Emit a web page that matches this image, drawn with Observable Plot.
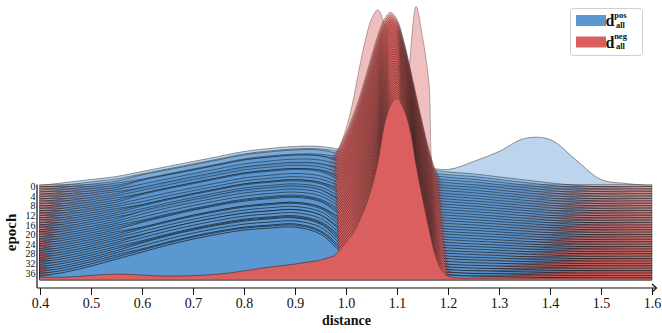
<!DOCTYPE html>
<html><head><meta charset="utf-8">
<script src="https://cdn.jsdelivr.net/npm/d3@7"></script>
<script src="https://cdn.jsdelivr.net/npm/@observablehq/plot@0.6"></script>
<style>body{margin:0;background:#fff}#chart{width:662px;height:333px}</style>
</head><body><div id="chart"></div>
<script>
const epochs = [0,1,2,3,4,5,6,7,8,9,10,11,12,13,14,15,16,17,18,19,20,21,22,23,24,25,26,27,28,29,30,31,32,33,34,35,36,37,38,39];
const epochTicks = [0,4,8,12,16,20,24,28,32,36];
const xTicks = [0.4,0.5,0.6,0.7,0.8,0.9,1.0,1.1,1.2,1.3,1.4,1.5,1.6];
const seriesNames = ["pos","neg"];
const seriesColors = ["#5b97d0","#d9605e"];
// distance grid of the positive-pair density
const blueX = [0.40,0.45,0.50,0.55,0.60,0.65,0.70,0.75,0.80,0.85,0.90,0.95,1.00,1.05,1.10,1.15,1.20,1.25,1.30,1.35,1.40,1.45,1.50,1.55,1.60];
// distance grid of the negative-pair density
const redX = [0.40,0.45,0.55,0.65,0.75,0.85,0.90,0.925,0.95,0.9625,0.975,0.9875,1.0,1.0125,1.025,1.0375,1.05,1.0625,1.075,1.0875,1.1,1.1125,1.125,1.1375,1.15,1.1625,1.175,1.1875,1.2,1.225,1.25,1.30,1.45,1.60];
const posDensity = [
[0.05,0.2,0.35,0.5,0.75,1.0,1.25,1.5,1.75,1.9,2.0,2.0,1.8,1.5,1.25,1.0,0.85,1.25,1.75,2.4,2.35,1.35,0.35,0.15,0.03],
[0.05,0.2,0.35,0.5,0.75,1.0,1.25,1.5,1.75,1.9,2.0,2.0,1.8,1.5,1.25,1.0,0.85,0.75,0.6,0.45,0.3,0.18,0.1,0.05,0.03],
[0.05,0.21,0.36,0.51,0.82,1.07,1.32,1.57,1.82,1.97,2.07,2.06,1.78,1.48,1.23,0.98,0.83,0.74,0.59,0.44,0.3,0.18,0.1,0.05,0.03],
[0.06,0.21,0.37,0.53,0.73,0.99,1.24,1.49,1.74,1.89,1.98,1.97,1.77,1.45,1.21,0.97,0.82,0.72,0.58,0.43,0.29,0.18,0.1,0.05,0.03],
[0.06,0.22,0.38,0.54,0.8,1.06,1.31,1.56,1.81,1.96,2.05,2.02,1.75,1.43,1.19,0.95,0.8,0.71,0.57,0.43,0.29,0.17,0.1,0.05,0.03],
[0.07,0.22,0.39,0.56,0.92,1.18,1.43,1.68,1.93,2.07,2.17,2.13,1.74,1.41,1.17,0.93,0.79,0.69,0.56,0.42,0.28,0.17,0.1,0.05,0.03],
[0.07,0.23,0.4,0.57,0.84,1.1,1.36,1.61,1.85,1.99,2.09,2.04,1.72,1.39,1.14,0.91,0.77,0.68,0.54,0.41,0.28,0.17,0.1,0.05,0.03],
[0.07,0.23,0.41,0.59,0.75,1.02,1.28,1.53,1.77,1.91,2.0,1.95,1.71,1.37,1.12,0.9,0.76,0.66,0.53,0.4,0.27,0.17,0.1,0.05,0.03],
[0.08,0.24,0.41,0.6,0.92,1.19,1.45,1.7,1.94,2.08,2.17,2.11,1.69,1.34,1.1,0.88,0.74,0.65,0.52,0.4,0.27,0.17,0.1,0.05,0.03],
[0.08,0.24,0.42,0.62,0.89,1.16,1.42,1.67,1.91,2.05,2.14,2.06,1.67,1.32,1.08,0.86,0.72,0.63,0.51,0.39,0.26,0.16,0.1,0.05,0.03],
[0.09,0.25,0.43,0.63,0.85,1.13,1.39,1.64,1.88,2.02,2.1,2.02,1.66,1.3,1.06,0.85,0.71,0.62,0.5,0.38,0.26,0.16,0.1,0.05,0.03],
[0.09,0.25,0.44,0.64,0.97,1.25,1.51,1.76,2.0,2.13,2.22,2.13,1.64,1.28,1.04,0.83,0.69,0.6,0.49,0.37,0.26,0.16,0.1,0.05,0.03],
[0.09,0.26,0.45,0.66,1.04,1.32,1.58,1.83,2.07,2.2,2.29,2.19,1.63,1.25,1.02,0.81,0.68,0.59,0.48,0.36,0.25,0.16,0.09,0.05,0.03],
[0.1,0.26,0.46,0.67,0.96,1.24,1.5,1.75,1.99,2.12,2.21,2.09,1.61,1.23,1.0,0.79,0.66,0.58,0.47,0.36,0.25,0.15,0.09,0.05,0.03],
[0.1,0.27,0.47,0.69,0.92,1.21,1.47,1.72,1.96,2.09,2.17,2.05,1.59,1.21,0.98,0.78,0.65,0.56,0.46,0.35,0.24,0.15,0.09,0.05,0.03],
[0.11,0.27,0.48,0.7,0.89,1.18,1.44,1.69,1.93,2.06,2.14,2.01,1.58,1.19,0.96,0.76,0.63,0.55,0.45,0.34,0.24,0.15,0.09,0.05,0.03],
[0.11,0.28,0.49,0.72,1.01,1.3,1.57,1.82,2.05,2.18,2.26,2.12,1.56,1.16,0.93,0.74,0.61,0.53,0.43,0.33,0.23,0.15,0.09,0.05,0.03],
[0.11,0.28,0.5,0.73,1.07,1.37,1.64,1.89,2.12,2.25,2.32,2.18,1.55,1.14,0.91,0.73,0.6,0.52,0.42,0.32,0.23,0.15,0.09,0.05,0.03],
[0.12,0.29,0.51,0.75,1.04,1.34,1.61,1.86,2.09,2.21,2.29,2.13,1.53,1.12,0.89,0.71,0.58,0.5,0.41,0.32,0.22,0.14,0.09,0.05,0.03],
[0.12,0.29,0.52,0.76,1.01,1.3,1.58,1.83,2.05,2.18,2.26,2.09,1.52,1.1,0.87,0.69,0.57,0.49,0.4,0.31,0.22,0.14,0.09,0.05,0.03],
[0.13,0.3,0.53,0.78,1.18,1.48,1.75,2.0,2.23,2.35,2.43,2.25,1.5,1.08,0.85,0.68,0.55,0.48,0.39,0.3,0.22,0.14,0.09,0.05,0.03],
[0.13,0.31,0.53,0.79,1.14,1.45,1.72,1.97,2.2,2.32,2.39,2.21,1.48,1.05,0.83,0.66,0.53,0.46,0.38,0.29,0.21,0.14,0.09,0.05,0.03],
[0.13,0.31,0.54,0.8,1.11,1.41,1.69,1.94,2.16,2.29,2.36,2.17,1.47,1.03,0.81,0.64,0.52,0.45,0.37,0.28,0.21,0.14,0.09,0.05,0.03],
[0.14,0.32,0.55,0.82,1.08,1.38,1.66,1.91,2.13,2.26,2.33,2.12,1.45,1.01,0.79,0.62,0.5,0.43,0.36,0.28,0.2,0.13,0.09,0.05,0.03],
[0.14,0.32,0.56,0.83,1.14,1.45,1.73,1.98,2.2,2.32,2.39,2.18,1.44,0.99,0.77,0.61,0.49,0.42,0.35,0.27,0.2,0.13,0.09,0.05,0.03],
[0.15,0.33,0.57,0.85,1.21,1.52,1.81,2.06,2.27,2.39,2.46,2.24,1.42,0.96,0.74,0.59,0.47,0.4,0.33,0.26,0.19,0.13,0.09,0.05,0.03],
[0.15,0.33,0.58,0.86,1.08,1.39,1.68,1.93,2.14,2.26,2.33,2.1,1.41,0.94,0.72,0.57,0.46,0.39,0.32,0.25,0.19,0.13,0.09,0.05,0.03],
[0.15,0.34,0.59,0.88,1.2,1.51,1.8,2.05,2.26,2.38,2.45,2.21,1.39,0.92,0.7,0.56,0.44,0.37,0.31,0.25,0.18,0.13,0.09,0.05,0.03],
[0.16,0.34,0.6,0.89,1.26,1.58,1.87,2.12,2.33,2.45,2.51,2.26,1.37,0.9,0.68,0.54,0.42,0.36,0.3,0.24,0.18,0.12,0.09,0.05,0.03],
[0.16,0.35,0.61,0.91,1.23,1.55,1.84,2.09,2.3,2.42,2.48,2.22,1.36,0.87,0.66,0.52,0.41,0.35,0.29,0.23,0.18,0.12,0.09,0.05,0.03],
[0.16,0.35,0.62,0.92,1.2,1.52,1.81,2.06,2.27,2.38,2.45,2.18,1.34,0.85,0.64,0.5,0.39,0.33,0.28,0.22,0.17,0.12,0.08,0.05,0.03],
[0.17,0.36,0.63,0.93,1.31,1.64,1.93,2.18,2.39,2.5,2.56,2.29,1.33,0.83,0.62,0.49,0.38,0.32,0.27,0.21,0.17,0.12,0.08,0.05,0.03],
[0.17,0.36,0.64,0.95,1.28,1.61,1.9,2.15,2.36,2.47,2.53,2.24,1.31,0.81,0.6,0.47,0.36,0.3,0.26,0.21,0.16,0.12,0.08,0.05,0.03],
[0.18,0.37,0.64,0.96,1.25,1.58,1.87,2.12,2.33,2.44,2.5,2.2,1.29,0.78,0.58,0.45,0.35,0.29,0.25,0.2,0.16,0.11,0.08,0.05,0.03],
[0.18,0.37,0.65,0.98,1.31,1.65,1.94,2.19,2.4,2.51,2.56,2.26,1.28,0.76,0.56,0.44,0.33,0.27,0.24,0.19,0.15,0.11,0.08,0.05,0.03],
[0.18,0.38,0.66,0.99,1.38,1.72,2.02,2.27,2.47,2.58,2.63,2.32,1.26,0.74,0.53,0.42,0.31,0.26,0.22,0.18,0.15,0.11,0.08,0.05,0.03],
[0.19,0.38,0.67,1.01,1.35,1.69,1.99,2.24,2.44,2.54,2.6,2.28,1.25,0.72,0.51,0.4,0.3,0.24,0.21,0.17,0.14,0.11,0.08,0.05,0.03],
[0.19,0.39,0.68,1.02,1.32,1.66,1.96,2.21,2.41,2.51,2.57,2.23,1.23,0.7,0.49,0.38,0.28,0.23,0.2,0.17,0.14,0.1,0.08,0.05,0.03],
[0.2,0.39,0.69,1.04,1.38,1.73,2.03,2.28,2.48,2.58,2.63,2.29,1.22,0.67,0.47,0.37,0.27,0.21,0.19,0.16,0.13,0.1,0.08,0.05,0.03],
[0.2,0.4,0.7,1.05,1.4,1.75,2.05,2.3,2.5,2.6,2.65,2.3,1.2,0.65,0.45,0.35,0.25,0.2,0.18,0.15,0.13,0.1,0.08,0.05,0.03]
];
const negDensity = [
[0.1,0.1,0.1,0.1,0.1,0.1,0.1,0.1, 0.1,0.1,0.1,0.1,0.15,0.15,0.15,0.2,0.2,0.25,0.3,0.4,0.6,1.75,6.25,9.0,7.5,5.25,0.3,0.15,0.1, 0.1,0.1,0.1,0.1,0.1],
[0.1,0.1,0.1,0.1,0.1,0.15,0.25,0.4, 0.6,0.9,1.4,2.1,3.0,4.25,5.9,7.4,8.5,8.95,8.25,6.75,5.0,3.4,2.0,1.1,0.6,0.3,0.2,0.15,0.1, 0.1,0.1,0.1,0.1,0.1],
[0.1,0.1,0.15,0.15,0.2,0.4,0.6,0.8, 1.2,1.45,1.75,2.25,2.9,3.7,4.6,5.65,6.75,7.8,8.6,8.95,8.6,7.6,6.25,4.8,3.4,2.1,1.1,0.55,0.3, 0.15,0.1,0.1,0.1,0.1],
[0.1,0.1,0.15,0.15,0.2,0.41,0.61,0.8, 1.19,1.44,1.74,2.23,2.87,3.66,4.55,5.6,6.69,7.75,8.58,8.95,8.61,7.63,6.29,4.83,3.42,2.11,1.1,0.55,0.3, 0.15,0.1,0.1,0.1,0.1],
[0.1,0.1,0.16,0.15,0.21,0.41,0.61,0.81, 1.19,1.43,1.72,2.21,2.85,3.62,4.51,5.54,6.63,7.7,8.55,8.94,8.63,7.65,6.32,4.85,3.44,2.13,1.11,0.55,0.29, 0.15,0.1,0.1,0.1,0.1],
[0.1,0.1,0.16,0.15,0.21,0.42,0.62,0.81, 1.18,1.42,1.71,2.19,2.82,3.59,4.46,5.49,6.58,7.65,8.53,8.93,8.64,7.68,6.36,4.88,3.46,2.14,1.11,0.55,0.29, 0.15,0.1,0.1,0.1,0.1],
[0.11,0.11,0.17,0.16,0.21,0.43,0.62,0.81, 1.18,1.41,1.69,2.17,2.79,3.55,4.42,5.43,6.52,7.6,8.51,8.93,8.65,7.71,6.4,4.9,3.48,2.15,1.12,0.54,0.29, 0.15,0.1,0.1,0.1,0.1],
[0.11,0.11,0.17,0.16,0.21,0.43,0.63,0.81, 1.17,1.4,1.68,2.15,2.77,3.51,4.37,5.38,6.46,7.54,8.49,8.92,8.67,7.74,6.43,4.93,3.5,2.17,1.12,0.54,0.29, 0.15,0.1,0.1,0.1,0.1],
[0.11,0.11,0.17,0.16,0.22,0.44,0.63,0.82, 1.17,1.39,1.66,2.13,2.74,3.47,4.33,5.33,6.4,7.49,8.46,8.92,8.68,7.76,6.47,4.95,3.51,2.18,1.12,0.54,0.28, 0.15,0.1,0.1,0.1,0.1],
[0.11,0.11,0.18,0.16,0.22,0.45,0.64,0.82, 1.16,1.38,1.65,2.11,2.71,3.44,4.28,5.27,6.34,7.44,8.44,8.91,8.7,7.79,6.51,4.98,3.53,2.2,1.13,0.54,0.28, 0.15,0.1,0.1,0.1,0.1],
[0.11,0.11,0.18,0.16,0.22,0.45,0.64,0.82, 1.16,1.37,1.63,2.09,2.68,3.4,4.23,5.22,6.29,7.39,8.42,8.91,8.71,7.82,6.54,5.01,3.55,2.21,1.13,0.54,0.28, 0.15,0.1,0.1,0.1,0.1],
[0.11,0.11,0.19,0.16,0.22,0.46,0.65,0.82, 1.15,1.37,1.62,2.07,2.66,3.36,4.19,5.16,6.23,7.34,8.39,8.9,8.72,7.84,6.58,5.03,3.57,2.22,1.14,0.54,0.28, 0.15,0.1,0.1,0.1,0.1],
[0.11,0.11,0.19,0.16,0.23,0.47,0.65,0.83, 1.15,1.36,1.6,2.05,2.63,3.32,4.14,5.11,6.17,7.29,8.37,8.9,8.74,7.87,6.62,5.06,3.59,2.24,1.14,0.54,0.27, 0.15,0.1,0.1,0.1,0.1],
[0.11,0.11,0.19,0.16,0.23,0.47,0.66,0.83, 1.14,1.35,1.59,2.03,2.6,3.28,4.1,5.06,6.11,7.24,8.35,8.89,8.75,7.9,6.65,5.08,3.61,2.25,1.15,0.54,0.27, 0.15,0.1,0.1,0.1,0.1],
[0.12,0.12,0.2,0.17,0.23,0.48,0.66,0.83, 1.14,1.34,1.57,2.01,2.58,3.25,4.05,5.0,6.05,7.18,8.32,8.89,8.76,7.92,6.69,5.11,3.63,2.26,1.15,0.53,0.27, 0.15,0.1,0.1,0.1,0.1],
[0.12,0.12,0.2,0.17,0.24,0.49,0.67,0.84, 1.13,1.33,1.56,1.99,2.55,3.21,4.0,4.95,6.0,7.13,8.3,8.88,8.78,7.95,6.72,5.13,3.65,2.28,1.15,0.53,0.26, 0.15,0.1,0.1,0.1,0.1],
[0.12,0.12,0.21,0.17,0.24,0.49,0.68,0.84, 1.12,1.32,1.54,1.97,2.52,3.17,3.96,4.89,5.94,7.08,8.28,8.87,8.79,7.98,6.76,5.16,3.67,2.29,1.16,0.53,0.26, 0.15,0.1,0.1,0.1,0.1],
[0.12,0.12,0.21,0.17,0.24,0.5,0.68,0.84, 1.12,1.31,1.53,1.95,2.5,3.13,3.91,4.84,5.88,7.03,8.26,8.87,8.8,8.01,6.8,5.19,3.68,2.3,1.16,0.53,0.26, 0.15,0.1,0.1,0.1,0.1],
[0.12,0.12,0.21,0.17,0.24,0.51,0.69,0.84, 1.11,1.3,1.51,1.93,2.47,3.1,3.87,4.79,5.82,6.98,8.23,8.86,8.82,8.03,6.83,5.21,3.7,2.32,1.17,0.53,0.26, 0.15,0.1,0.1,0.1,0.1],
[0.12,0.12,0.22,0.17,0.25,0.51,0.69,0.85, 1.11,1.29,1.5,1.91,2.44,3.06,3.82,4.73,5.76,6.93,8.21,8.86,8.83,8.06,6.87,5.24,3.72,2.33,1.17,0.53,0.25, 0.15,0.1,0.1,0.1,0.1],
[0.12,0.12,0.22,0.17,0.25,0.52,0.7,0.85, 1.1,1.28,1.48,1.89,2.41,3.02,3.77,4.68,5.71,6.88,8.19,8.85,8.84,8.09,6.91,5.26,3.74,2.34,1.17,0.53,0.25, 0.12,0.1,0.1,0.1,0.1],
[0.13,0.13,0.23,0.18,0.25,0.53,0.7,0.85, 1.1,1.27,1.47,1.86,2.39,2.98,3.73,4.62,5.65,6.82,8.16,8.85,8.86,8.11,6.94,5.29,3.76,2.36,1.18,0.52,0.25, 0.12,0.1,0.1,0.1,0.1],
[0.13,0.13,0.23,0.18,0.25,0.54,0.71,0.85, 1.09,1.26,1.45,1.84,2.36,2.94,3.68,4.57,5.59,6.77,8.14,8.84,8.87,8.14,6.98,5.31,3.78,2.37,1.18,0.52,0.25, 0.12,0.1,0.1,0.1,0.1],
[0.13,0.13,0.24,0.18,0.26,0.54,0.71,0.86, 1.09,1.25,1.44,1.82,2.33,2.91,3.63,4.51,5.53,6.72,8.12,8.84,8.88,8.17,7.02,5.34,3.8,2.38,1.19,0.52,0.24, 0.12,0.1,0.1,0.1,0.1],
[0.13,0.13,0.24,0.18,0.26,0.55,0.72,0.86, 1.08,1.24,1.42,1.8,2.31,2.87,3.59,4.46,5.47,6.67,8.09,8.83,8.9,8.2,7.05,5.37,3.82,2.4,1.19,0.52,0.24, 0.12,0.1,0.1,0.1,0.1],
[0.13,0.13,0.24,0.18,0.26,0.56,0.72,0.86, 1.08,1.23,1.41,1.78,2.28,2.83,3.54,4.41,5.41,6.62,8.07,8.83,8.91,8.22,7.09,5.39,3.84,2.41,1.19,0.52,0.24, 0.12,0.1,0.1,0.1,0.1],
[0.13,0.13,0.25,0.18,0.26,0.56,0.73,0.86, 1.07,1.22,1.39,1.76,2.25,2.79,3.5,4.35,5.35,6.57,8.05,8.82,8.93,8.25,7.13,5.42,3.85,2.43,1.2,0.52,0.24, 0.12,0.1,0.1,0.1,0.1],
[0.13,0.13,0.25,0.18,0.27,0.57,0.74,0.87, 1.07,1.21,1.38,1.74,2.22,2.75,3.45,4.3,5.3,6.52,8.03,8.82,8.94,8.28,7.16,5.44,3.87,2.44,1.2,0.52,0.23, 0.12,0.1,0.1,0.1,0.1],
[0.14,0.14,0.26,0.19,0.27,0.58,0.74,0.87, 1.06,1.2,1.36,1.72,2.2,2.72,3.41,4.24,5.24,6.46,8.0,8.81,8.95,8.3,7.2,5.47,3.89,2.45,1.21,0.51,0.23, 0.12,0.1,0.1,0.1,0.1],
[0.14,0.14,0.26,0.19,0.27,0.58,0.75,0.87, 1.05,1.19,1.35,1.7,2.17,2.68,3.36,4.19,5.18,6.41,7.98,8.8,8.97,8.33,7.24,5.49,3.91,2.47,1.21,0.51,0.23, 0.12,0.1,0.1,0.1,0.1],
[0.14,0.14,0.26,0.19,0.28,0.59,0.75,0.88, 1.05,1.19,1.33,1.68,2.14,2.64,3.31,4.14,5.12,6.36,7.96,8.8,8.98,8.36,7.27,5.52,3.93,2.48,1.21,0.51,0.22, 0.12,0.1,0.1,0.1,0.1],
[0.14,0.14,0.27,0.19,0.28,0.6,0.76,0.88, 1.04,1.18,1.32,1.66,2.12,2.6,3.27,4.08,5.06,6.31,7.93,8.79,8.99,8.38,7.31,5.55,3.95,2.49,1.22,0.51,0.22, 0.12,0.1,0.1,0.1,0.1],
[0.14,0.14,0.27,0.19,0.28,0.6,0.76,0.88, 1.04,1.17,1.3,1.64,2.09,2.57,3.22,4.03,5.01,6.26,7.91,8.79,9.01,8.41,7.35,5.57,3.97,2.51,1.22,0.51,0.22, 0.12,0.1,0.1,0.1,0.1],
[0.14,0.14,0.28,0.19,0.28,0.61,0.77,0.88, 1.03,1.16,1.29,1.62,2.06,2.53,3.18,3.97,4.95,6.21,7.89,8.78,9.02,8.44,7.38,5.6,3.99,2.52,1.23,0.51,0.22, 0.12,0.1,0.1,0.1,0.1],
[0.14,0.14,0.28,0.19,0.29,0.62,0.77,0.89, 1.03,1.15,1.27,1.6,2.04,2.49,3.13,3.92,4.89,6.16,7.87,8.78,9.03,8.47,7.42,5.62,4.01,2.53,1.23,0.51,0.21, 0.12,0.1,0.1,0.1,0.1],
[0.14,0.14,0.28,0.2,0.29,0.62,0.78,0.89, 1.02,1.14,1.26,1.58,2.01,2.45,3.08,3.87,4.83,6.11,7.84,8.77,9.05,8.49,7.45,5.65,4.02,2.55,1.23,0.5,0.21, 0.12,0.1,0.1,0.1,0.1],
[0.15,0.15,0.29,0.2,0.29,0.63,0.78,0.89, 1.02,1.13,1.24,1.56,1.98,2.41,3.04,3.81,4.77,6.05,7.82,8.77,9.06,8.52,7.49,5.67,4.04,2.56,1.24,0.5,0.21, 0.12,0.1,0.1,0.1,0.1],
[0.15,0.15,0.29,0.2,0.29,0.64,0.79,0.89, 1.01,1.12,1.23,1.54,1.95,2.38,2.99,3.76,4.72,6.0,7.8,8.76,9.07,8.55,7.53,5.7,4.06,2.57,1.24,0.5,0.21, 0.12,0.1,0.1,0.1,0.1],
[0.15,0.15,0.3,0.2,0.3,0.64,0.79,0.9, 1.01,1.11,1.22,1.52,1.93,2.34,2.95,3.7,4.66,5.95,7.77,8.76,9.09,8.57,7.56,5.72,4.08,2.59,1.25,0.5,0.2, 0.12,0.1,0.1,0.1,0.1],
[0.15,0.15,0.3,0.2,0.3,0.65,0.8,0.9, 1.0,1.1,1.2,1.5,1.9,2.3,2.9,3.65,4.6,5.9,7.75,8.75,9.1,8.6,7.6,5.75,4.1,2.6,1.25,0.5,0.2, 0.1,0.1,0.1,0.1,0.1]
];
const ridgeStep = 0.12;   // density units between successive epoch baselines

const marks = [];
for (const e of epochs) {
  const a = 0.4 + 0.6 * e / (epochs.length - 1);
  const base = -e * ridgeStep;
  const pos = blueX.map((x, i) => ({x, y1: base, y2: base + posDensity[e][i]}));
  const neg = redX.map((x, i) => ({x, y1: base, y2: base + negDensity[e][i]}));
  marks.push(Plot.areaY(pos, {x: "x", y1: "y1", y2: "y2", curve: "catmull-rom",
    fill: seriesColors[0], fillOpacity: a, stroke: "#141414", strokeOpacity: 0.35 + 0.5 * a, strokeWidth: 0.8}));
  marks.push(Plot.areaY(neg, {x: "x", y1: "y1", y2: "y2", curve: "catmull-rom",
    fill: seriesColors[1], fillOpacity: a, stroke: "#141414", strokeOpacity: 0.3 + 0.35 * a, strokeWidth: 0.7}));
}
marks.push(Plot.axisX({ticks: xTicks, tickFormat: d3.format(".1f"), tickSize: 7, tickPadding: 3, fontSize: 14, label: null}));
marks.push(Plot.axisY({ticks: epochTicks.map(e => -e * ridgeStep), tickFormat: d => String(Math.round(Math.abs(d) / ridgeStep)), tickSize: 0, tickPadding: 5, fontSize: 10, label: null}));
marks.push(Plot.text(["distance"], {frameAnchor: "bottom", dy: 36, fontWeight: "bold", fontSize: 14}));
marks.push(Plot.text(["epoch"], {frameAnchor: "left", textAnchor: "middle", dx: -29, dy: 88, rotate: -90, fontWeight: "bold", fontSize: 15}));

const plot = Plot.plot({
  width: 662, height: 333,
  marginLeft: 40, marginRight: 10, marginTop: 0, marginBottom: 45,
  style: {fontFamily: "'Liberation Serif', 'DejaVu Serif', serif", background: "#fff", overflow: "visible", color: "#111"},
  x: {domain: [0.4, 1.6]},
  y: {domain: [-5.075, 9.325]},
  marks
});
document.getElementById("chart").appendChild(plot);

// axis lines with arrow, drawn from the plot's own scales
const svg = d3.select(plot);
const xs = plot.scale("x"), ys = plot.scale("y");
const [xa, xb] = xs.range;
const yb = ys.range[0];
const ax = svg.append("g").attr("fill", "none").attr("stroke", "#111").attr("stroke-width", 1.2);
ax.append("path").attr("d", `M${xa - 3},${yb}H${xb + 4}`);
ax.append("path").attr("d", `M${xb},${yb - 4}L${xb + 4.5},${yb}L${xb},${yb + 4}`);
ax.append("path").attr("d", `M${xa - 3},${ys.apply(0) - 2}V${yb}`);

// legend
const lg = svg.append("g").attr("font-family", "'Liberation Serif', serif").attr("font-weight", "bold").attr("fill", "#111");
lg.append("rect").attr("x", 570.5).attr("y", 8.5).attr("width", 72).attr("height", 47).attr("rx", 3)
  .attr("fill", "#fff").attr("stroke", "#cfcfcf");
seriesNames.forEach((s, i) => {
  const y = 15 + i * 21.5;
  lg.append("rect").attr("x", 576).attr("y", y).attr("width", 30).attr("height", 11).attr("fill", seriesColors[i]);
  lg.append("text").attr("x", 610).attr("y", y + 11).attr("font-size", 16).text("d");
  lg.append("text").attr("x", 620.5).attr("y", y + 2.5).attr("font-size", 8.5).text(s);
  lg.append("text").attr("x", 620.5).attr("y", y + 12.5).attr("font-size", 8.5).text("all");
});
</script>
</body></html>
